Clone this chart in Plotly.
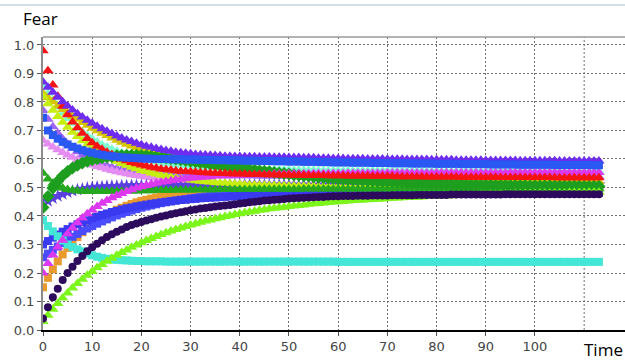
import plotly.graph_objects as go

# Simulated fear level of each agent over time (one list per agent, one value per time step)
red = [
    0.980, 0.910, 0.860, 0.820, 0.785, 0.755, 0.730, 0.710, 0.690, 0.672,
    0.657, 0.645, 0.634, 0.624, 0.615, 0.607, 0.600, 0.594, 0.588, 0.583,
    0.579, 0.575, 0.571, 0.568, 0.565, 0.563, 0.561, 0.559, 0.557, 0.556,
    0.555, 0.554, 0.553, 0.552, 0.551, 0.550, 0.549, 0.549, 0.548, 0.548,
    0.547, 0.547, 0.546, 0.546, 0.546, 0.545, 0.545, 0.545, 0.544, 0.544,
    0.544, 0.543, 0.543, 0.543, 0.542, 0.542, 0.542, 0.542, 0.541, 0.541,
    0.541, 0.541, 0.540, 0.540, 0.540, 0.540, 0.540, 0.539, 0.539, 0.539,
    0.539, 0.539, 0.538, 0.538, 0.538, 0.538, 0.538, 0.538, 0.537, 0.537,
    0.537, 0.537, 0.537, 0.537, 0.537, 0.536, 0.536, 0.536, 0.536, 0.536,
    0.536, 0.536, 0.536, 0.535, 0.535, 0.535, 0.535, 0.535, 0.535, 0.535,
    0.535, 0.535, 0.535, 0.535, 0.534, 0.534, 0.534, 0.534, 0.534, 0.534,
    0.534, 0.534, 0.534, 0.534,
]
violet = [
    0.870, 0.852, 0.834, 0.817, 0.801, 0.786, 0.772, 0.759, 0.747, 0.736,
    0.725, 0.715, 0.706, 0.697, 0.689, 0.681, 0.674, 0.667, 0.661, 0.655,
    0.650, 0.645, 0.641, 0.637, 0.633, 0.630, 0.627, 0.624, 0.622, 0.620,
    0.618, 0.616, 0.615, 0.614, 0.613, 0.612, 0.611, 0.610, 0.610, 0.609,
    0.609, 0.608, 0.608, 0.608, 0.607, 0.607, 0.607, 0.606, 0.606, 0.606,
    0.605, 0.605, 0.605, 0.604, 0.604, 0.604, 0.603, 0.603, 0.603, 0.602,
    0.602, 0.602, 0.601, 0.601, 0.601, 0.601, 0.600, 0.600, 0.600, 0.600,
    0.599, 0.599, 0.599, 0.599, 0.598, 0.598, 0.598, 0.598, 0.598, 0.597,
    0.597, 0.597, 0.597, 0.597, 0.596, 0.596, 0.596, 0.596, 0.596, 0.596,
    0.595, 0.595, 0.595, 0.595, 0.595, 0.595, 0.595, 0.594, 0.594, 0.594,
    0.594, 0.594, 0.594, 0.594, 0.594, 0.593, 0.593, 0.593, 0.593, 0.593,
    0.593, 0.593, 0.593, 0.593,
]
royal_blue = [
    0.745, 0.700, 0.684, 0.671, 0.660, 0.651, 0.643, 0.637, 0.631, 0.626,
    0.622, 0.618, 0.615, 0.612, 0.610, 0.608, 0.606, 0.605, 0.604, 0.603,
    0.602, 0.601, 0.601, 0.600, 0.600, 0.600, 0.599, 0.599, 0.599, 0.598,
    0.598, 0.598, 0.597, 0.597, 0.597, 0.596, 0.596, 0.596, 0.595, 0.595,
    0.595, 0.594, 0.594, 0.594, 0.593, 0.593, 0.593, 0.592, 0.592, 0.592,
    0.591, 0.591, 0.591, 0.590, 0.590, 0.590, 0.589, 0.589, 0.589, 0.588,
    0.588, 0.588, 0.588, 0.587, 0.587, 0.587, 0.587, 0.586, 0.586, 0.586,
    0.586, 0.585, 0.585, 0.585, 0.585, 0.584, 0.584, 0.584, 0.584, 0.584,
    0.583, 0.583, 0.583, 0.583, 0.583, 0.582, 0.582, 0.582, 0.582, 0.582,
    0.582, 0.581, 0.581, 0.581, 0.581, 0.581, 0.581, 0.580, 0.580, 0.580,
    0.580, 0.580, 0.580, 0.580, 0.579, 0.579, 0.579, 0.579, 0.579, 0.579,
    0.579, 0.579, 0.578, 0.578,
]
aquamarine = [
    0.860, 0.831, 0.806, 0.782, 0.761, 0.742, 0.725, 0.709, 0.695, 0.682,
    0.670, 0.660, 0.650, 0.642, 0.634, 0.627, 0.621, 0.615, 0.610, 0.605,
    0.601, 0.597, 0.593, 0.590, 0.587, 0.585, 0.582, 0.580, 0.578, 0.577,
    0.575, 0.574, 0.572, 0.571, 0.570, 0.569, 0.568, 0.567, 0.567, 0.566,
    0.565, 0.565, 0.564, 0.564, 0.563, 0.563, 0.563, 0.562, 0.562, 0.562,
    0.562, 0.561, 0.561, 0.561, 0.561, 0.561, 0.560, 0.560, 0.560, 0.560,
    0.560, 0.560, 0.560, 0.559, 0.559, 0.559, 0.559, 0.559, 0.559, 0.559,
    0.559, 0.558, 0.558, 0.558, 0.558, 0.558, 0.558, 0.558, 0.558, 0.558,
    0.558, 0.558, 0.557, 0.557, 0.557, 0.557, 0.557, 0.557, 0.557, 0.557,
    0.557, 0.557, 0.557, 0.557, 0.557, 0.557, 0.557, 0.557, 0.556, 0.556,
    0.556, 0.556, 0.556, 0.556, 0.556, 0.556, 0.556, 0.556, 0.556, 0.556,
    0.556, 0.556, 0.556, 0.556,
]
olive_yellow = [
    0.830, 0.815, 0.801, 0.787, 0.774, 0.762, 0.750, 0.739, 0.728, 0.718,
    0.708, 0.699, 0.690, 0.682, 0.674, 0.666, 0.659, 0.652, 0.646, 0.640,
    0.634, 0.629, 0.623, 0.618, 0.613, 0.609, 0.605, 0.600, 0.597, 0.593,
    0.589, 0.586, 0.583, 0.580, 0.577, 0.574, 0.571, 0.569, 0.566, 0.564,
    0.562, 0.560, 0.558, 0.556, 0.554, 0.553, 0.551, 0.549, 0.548, 0.547,
    0.545, 0.544, 0.543, 0.542, 0.541, 0.540, 0.539, 0.538, 0.537, 0.536,
    0.535, 0.534, 0.534, 0.533, 0.532, 0.532, 0.531, 0.531, 0.530, 0.530,
    0.529, 0.529, 0.528, 0.528, 0.528, 0.527, 0.527, 0.527, 0.526, 0.526,
    0.526, 0.525, 0.525, 0.525, 0.525, 0.524, 0.524, 0.524, 0.524, 0.524,
    0.523, 0.523, 0.523, 0.523, 0.523, 0.523, 0.522, 0.522, 0.522, 0.522,
    0.522, 0.522, 0.522, 0.522, 0.521, 0.521, 0.521, 0.521, 0.521, 0.521,
    0.521, 0.521, 0.521, 0.521,
]
chartreuse = [
    0.820, 0.794, 0.771, 0.749, 0.729, 0.711, 0.694, 0.679, 0.664, 0.651,
    0.639, 0.628, 0.618, 0.608, 0.600, 0.592, 0.584, 0.578, 0.571, 0.566,
    0.560, 0.556, 0.551, 0.547, 0.543, 0.540, 0.537, 0.534, 0.531, 0.528,
    0.526, 0.524, 0.522, 0.520, 0.519, 0.517, 0.516, 0.515, 0.513, 0.512,
    0.511, 0.510, 0.509, 0.509, 0.508, 0.508, 0.507, 0.507, 0.506, 0.506,
    0.505, 0.505, 0.505, 0.504, 0.504, 0.504, 0.503, 0.503, 0.503, 0.502,
    0.502, 0.502, 0.502, 0.501, 0.501, 0.501, 0.501, 0.501, 0.500, 0.500,
    0.500, 0.500, 0.500, 0.500, 0.500, 0.499, 0.499, 0.499, 0.499, 0.499,
    0.499, 0.499, 0.499, 0.499, 0.498, 0.498, 0.498, 0.498, 0.498, 0.498,
    0.498, 0.498, 0.498, 0.498, 0.498, 0.498, 0.498, 0.498, 0.498, 0.498,
    0.498, 0.498, 0.497, 0.497, 0.497, 0.497, 0.497, 0.497, 0.497, 0.497,
    0.497, 0.497, 0.497, 0.497,
]
orchid = [
    0.665, 0.653, 0.642, 0.632, 0.623, 0.614, 0.606, 0.598, 0.591, 0.585,
    0.579, 0.574, 0.569, 0.564, 0.560, 0.555, 0.552, 0.548, 0.545, 0.542,
    0.539, 0.537, 0.534, 0.532, 0.530, 0.528, 0.527, 0.525, 0.524, 0.522,
    0.521, 0.520, 0.519, 0.518, 0.517, 0.516, 0.515, 0.514, 0.514, 0.513,
    0.512, 0.512, 0.511, 0.511, 0.510, 0.510, 0.509, 0.509, 0.509, 0.508,
    0.508, 0.508, 0.507, 0.507, 0.507, 0.507, 0.506, 0.506, 0.506, 0.506,
    0.506, 0.506, 0.505, 0.505, 0.505, 0.505, 0.505, 0.505, 0.505, 0.505,
    0.505, 0.504, 0.504, 0.504, 0.504, 0.504, 0.504, 0.504, 0.504, 0.504,
    0.504, 0.504, 0.504, 0.504, 0.504, 0.504, 0.504, 0.504, 0.504, 0.504,
    0.504, 0.504, 0.504, 0.503, 0.503, 0.503, 0.503, 0.503, 0.503, 0.503,
    0.503, 0.503, 0.503, 0.503, 0.503, 0.503, 0.503, 0.503, 0.503, 0.503,
    0.503, 0.503, 0.503, 0.503,
]
medium_purple = [
    0.770, 0.739, 0.713, 0.690, 0.670, 0.653, 0.638, 0.625, 0.613, 0.603,
    0.595, 0.588, 0.581, 0.576, 0.571, 0.567, 0.563, 0.560, 0.557, 0.555,
    0.553, 0.552, 0.550, 0.549, 0.547, 0.546, 0.546, 0.545, 0.544, 0.544,
    0.543, 0.543, 0.543, 0.542, 0.542, 0.542, 0.542, 0.541, 0.541, 0.541,
    0.541, 0.541, 0.541, 0.541, 0.540, 0.540, 0.540, 0.540, 0.540, 0.540,
    0.540, 0.540, 0.540, 0.540, 0.540, 0.540, 0.540, 0.540, 0.540, 0.540,
    0.540, 0.539, 0.539, 0.539, 0.539, 0.539, 0.539, 0.539, 0.539, 0.539,
    0.539, 0.539, 0.539, 0.539, 0.539, 0.539, 0.539, 0.539, 0.539, 0.539,
    0.539, 0.539, 0.539, 0.539, 0.539, 0.538, 0.538, 0.538, 0.538, 0.538,
    0.538, 0.538, 0.538, 0.538, 0.538, 0.538, 0.538, 0.538, 0.538, 0.538,
    0.538, 0.538, 0.538, 0.538, 0.538, 0.538, 0.538, 0.538, 0.538, 0.538,
    0.538, 0.538, 0.538, 0.538,
]
green_rising = [
    0.430, 0.468, 0.498, 0.522, 0.541, 0.556, 0.568, 0.578, 0.586, 0.592,
    0.597, 0.601, 0.604, 0.607, 0.609, 0.611, 0.612, 0.613, 0.613, 0.613,
    0.612, 0.611, 0.610, 0.608, 0.606, 0.604, 0.602, 0.600, 0.597, 0.595,
    0.592, 0.590, 0.587, 0.585, 0.582, 0.580, 0.577, 0.575, 0.572, 0.570,
    0.568, 0.566, 0.563, 0.561, 0.559, 0.557, 0.555, 0.553, 0.551, 0.549,
    0.547, 0.545, 0.543, 0.541, 0.540, 0.538, 0.536, 0.535, 0.533, 0.532,
    0.530, 0.529, 0.528, 0.527, 0.526, 0.525, 0.524, 0.523, 0.522, 0.521,
    0.520, 0.519, 0.518, 0.518, 0.517, 0.516, 0.516, 0.515, 0.514, 0.514,
    0.513, 0.513, 0.512, 0.512, 0.511, 0.511, 0.510, 0.510, 0.510, 0.509,
    0.509, 0.509, 0.508, 0.508, 0.508, 0.507, 0.507, 0.507, 0.507, 0.506,
    0.506, 0.506, 0.506, 0.506, 0.505, 0.505, 0.505, 0.505, 0.505, 0.505,
    0.504, 0.504, 0.504, 0.504,
]
green_flat = [
    0.550, 0.530, 0.515, 0.505, 0.498, 0.493, 0.490, 0.488, 0.487, 0.486,
    0.486, 0.486, 0.486, 0.486, 0.487, 0.487, 0.487, 0.488, 0.488, 0.488,
    0.489, 0.489, 0.489, 0.490, 0.490, 0.490, 0.490, 0.491, 0.491, 0.491,
    0.491, 0.492, 0.492, 0.492, 0.492, 0.492, 0.493, 0.493, 0.493, 0.493,
    0.493, 0.493, 0.493, 0.494, 0.494, 0.494, 0.494, 0.494, 0.494, 0.494,
    0.494, 0.494, 0.494, 0.495, 0.495, 0.495, 0.495, 0.495, 0.495, 0.495,
    0.495, 0.495, 0.495, 0.495, 0.495, 0.495, 0.495, 0.495, 0.495, 0.495,
    0.495, 0.495, 0.496, 0.496, 0.496, 0.496, 0.496, 0.496, 0.496, 0.496,
    0.496, 0.496, 0.496, 0.496, 0.496, 0.496, 0.496, 0.496, 0.496, 0.496,
    0.496, 0.496, 0.496, 0.496, 0.496, 0.496, 0.496, 0.496, 0.496, 0.496,
    0.496, 0.496, 0.496, 0.496, 0.496, 0.496, 0.496, 0.496, 0.496, 0.496,
    0.496, 0.496, 0.496, 0.496,
]
slate_blue = [
    0.440, 0.452, 0.462, 0.470, 0.477, 0.483, 0.488, 0.492, 0.495, 0.498,
    0.500, 0.502, 0.503, 0.504, 0.505, 0.505, 0.506, 0.506, 0.507, 0.507,
    0.507, 0.507, 0.507, 0.508, 0.508, 0.508, 0.508, 0.508, 0.508, 0.508,
    0.508, 0.508, 0.508, 0.508, 0.509, 0.509, 0.509, 0.509, 0.509, 0.509,
    0.509, 0.509, 0.509, 0.509, 0.509, 0.509, 0.509, 0.509, 0.509, 0.509,
    0.509, 0.509, 0.509, 0.509, 0.509, 0.509, 0.509, 0.509, 0.510, 0.510,
    0.510, 0.510, 0.510, 0.510, 0.510, 0.510, 0.510, 0.510, 0.510, 0.510,
    0.510, 0.510, 0.510, 0.510, 0.510, 0.510, 0.510, 0.510, 0.510, 0.510,
    0.510, 0.510, 0.510, 0.510, 0.510, 0.510, 0.510, 0.510, 0.510, 0.510,
    0.510, 0.510, 0.510, 0.510, 0.510, 0.510, 0.510, 0.510, 0.510, 0.510,
    0.510, 0.510, 0.510, 0.510, 0.510, 0.510, 0.510, 0.510, 0.510, 0.510,
    0.510, 0.510, 0.510, 0.510,
]
magenta = [
    0.200, 0.233, 0.263, 0.291, 0.315, 0.338, 0.358, 0.376, 0.393, 0.408,
    0.421, 0.433, 0.445, 0.454, 0.464, 0.472, 0.479, 0.486, 0.492, 0.498,
    0.503, 0.507, 0.511, 0.515, 0.518, 0.521, 0.524, 0.527, 0.529, 0.531,
    0.533, 0.534, 0.536, 0.537, 0.538, 0.540, 0.541, 0.541, 0.542, 0.543,
    0.544, 0.544, 0.545, 0.545, 0.546, 0.546, 0.546, 0.547, 0.547, 0.547,
    0.548, 0.548, 0.548, 0.548, 0.548, 0.549, 0.549, 0.549, 0.549, 0.549,
    0.549, 0.549, 0.550, 0.550, 0.550, 0.550, 0.550, 0.550, 0.550, 0.550,
    0.551, 0.551, 0.551, 0.551, 0.551, 0.551, 0.551, 0.551, 0.551, 0.551,
    0.552, 0.552, 0.552, 0.552, 0.552, 0.552, 0.552, 0.552, 0.552, 0.552,
    0.552, 0.552, 0.552, 0.552, 0.552, 0.553, 0.553, 0.553, 0.553, 0.553,
    0.553, 0.553, 0.553, 0.553, 0.553, 0.553, 0.553, 0.553, 0.553, 0.553,
    0.553, 0.553, 0.553, 0.553,
]
orange = [
    0.150, 0.183, 0.213, 0.241, 0.265, 0.288, 0.308, 0.326, 0.343, 0.358,
    0.371, 0.383, 0.395, 0.404, 0.414, 0.422, 0.429, 0.436, 0.442, 0.448,
    0.453, 0.457, 0.461, 0.465, 0.468, 0.471, 0.474, 0.477, 0.479, 0.481,
    0.483, 0.484, 0.486, 0.487, 0.488, 0.490, 0.491, 0.491, 0.492, 0.493,
    0.494, 0.494, 0.495, 0.495, 0.496, 0.496, 0.496, 0.497, 0.497, 0.497,
    0.497, 0.498, 0.498, 0.498, 0.498, 0.498, 0.498, 0.499, 0.499, 0.499,
    0.499, 0.499, 0.499, 0.499, 0.499, 0.499, 0.499, 0.500, 0.500, 0.500,
    0.500, 0.500, 0.500, 0.500, 0.500, 0.500, 0.500, 0.500, 0.500, 0.500,
    0.500, 0.500, 0.500, 0.500, 0.500, 0.500, 0.500, 0.500, 0.500, 0.500,
    0.500, 0.500, 0.500, 0.500, 0.500, 0.500, 0.500, 0.500, 0.500, 0.500,
    0.500, 0.500, 0.500, 0.500, 0.500, 0.500, 0.500, 0.500, 0.500, 0.500,
    0.500, 0.500, 0.500, 0.500,
]
blue = [
    0.300, 0.312, 0.324, 0.335, 0.345, 0.354, 0.363, 0.371, 0.378, 0.385,
    0.392, 0.398, 0.404, 0.409, 0.414, 0.418, 0.423, 0.427, 0.430, 0.434,
    0.437, 0.440, 0.443, 0.445, 0.448, 0.450, 0.452, 0.454, 0.456, 0.457,
    0.459, 0.460, 0.462, 0.463, 0.464, 0.465, 0.466, 0.467, 0.468, 0.469,
    0.470, 0.471, 0.471, 0.472, 0.472, 0.473, 0.473, 0.474, 0.474, 0.475,
    0.475, 0.475, 0.476, 0.476, 0.476, 0.477, 0.477, 0.477, 0.477, 0.477,
    0.478, 0.478, 0.478, 0.478, 0.478, 0.478, 0.479, 0.479, 0.479, 0.479,
    0.479, 0.479, 0.479, 0.479, 0.480, 0.480, 0.480, 0.480, 0.480, 0.480,
    0.480, 0.480, 0.480, 0.480, 0.480, 0.480, 0.480, 0.481, 0.481, 0.481,
    0.481, 0.481, 0.481, 0.481, 0.481, 0.481, 0.481, 0.481, 0.481, 0.481,
    0.481, 0.481, 0.481, 0.481, 0.481, 0.481, 0.481, 0.481, 0.481, 0.481,
    0.481, 0.481, 0.481, 0.481,
]
light_blue = [
    0.255, 0.268, 0.281, 0.293, 0.305, 0.316, 0.327, 0.337, 0.347, 0.356,
    0.365, 0.373, 0.381, 0.388, 0.395, 0.402, 0.408, 0.414, 0.419, 0.424,
    0.429, 0.433, 0.437, 0.441, 0.445, 0.448, 0.451, 0.454, 0.457, 0.459,
    0.462, 0.464, 0.466, 0.468, 0.470, 0.471, 0.473, 0.474, 0.476, 0.477,
    0.478, 0.479, 0.480, 0.481, 0.482, 0.482, 0.483, 0.484, 0.484, 0.485,
    0.485, 0.486, 0.486, 0.486, 0.487, 0.487, 0.487, 0.488, 0.488, 0.488,
    0.488, 0.488, 0.488, 0.489, 0.489, 0.489, 0.489, 0.489, 0.489, 0.489,
    0.489, 0.489, 0.489, 0.489, 0.489, 0.490, 0.490, 0.490, 0.490, 0.490,
    0.490, 0.490, 0.490, 0.490, 0.490, 0.490, 0.490, 0.490, 0.490, 0.490,
    0.490, 0.490, 0.490, 0.490, 0.490, 0.490, 0.490, 0.490, 0.490, 0.490,
    0.490, 0.490, 0.490, 0.490, 0.490, 0.490, 0.490, 0.490, 0.490, 0.490,
    0.490, 0.490, 0.490, 0.490,
]
indigo = [
    0.040, 0.080, 0.115, 0.145, 0.175, 0.200, 0.222, 0.242, 0.260, 0.276,
    0.290, 0.303, 0.315, 0.326, 0.336, 0.345, 0.353, 0.361, 0.368, 0.374,
    0.379, 0.384, 0.389, 0.394, 0.398, 0.402, 0.406, 0.410, 0.413, 0.417,
    0.420, 0.423, 0.426, 0.428, 0.431, 0.433, 0.435, 0.437, 0.439, 0.441,
    0.444, 0.446, 0.448, 0.450, 0.452, 0.454, 0.455, 0.457, 0.458, 0.460,
    0.461, 0.462, 0.463, 0.464, 0.465, 0.466, 0.467, 0.467, 0.468, 0.469,
    0.469, 0.470, 0.470, 0.470, 0.471, 0.471, 0.471, 0.472, 0.472, 0.472,
    0.472, 0.473, 0.473, 0.473, 0.473, 0.473, 0.474, 0.474, 0.474, 0.474,
    0.474, 0.474, 0.474, 0.475, 0.475, 0.475, 0.475, 0.475, 0.475, 0.475,
    0.475, 0.475, 0.475, 0.475, 0.476, 0.476, 0.476, 0.476, 0.476, 0.476,
    0.476, 0.476, 0.476, 0.476, 0.476, 0.476, 0.476, 0.476, 0.476, 0.476,
    0.476, 0.476, 0.476, 0.476,
]
lime = [
    0.030, 0.052, 0.073, 0.093, 0.112, 0.130, 0.147, 0.163, 0.178, 0.192,
    0.205, 0.218, 0.230, 0.241, 0.252, 0.262, 0.272, 0.281, 0.290, 0.298,
    0.306, 0.314, 0.321, 0.328, 0.335, 0.341, 0.347, 0.353, 0.358, 0.363,
    0.368, 0.373, 0.378, 0.382, 0.386, 0.390, 0.394, 0.398, 0.401, 0.405,
    0.408, 0.411, 0.414, 0.417, 0.420, 0.422, 0.425, 0.427, 0.429, 0.431,
    0.433, 0.435, 0.437, 0.439, 0.441, 0.443, 0.444, 0.446, 0.447, 0.449,
    0.450, 0.451, 0.453, 0.454, 0.455, 0.456, 0.457, 0.458, 0.459, 0.460,
    0.461, 0.462, 0.463, 0.464, 0.465, 0.466, 0.466, 0.467, 0.468, 0.469,
    0.469, 0.470, 0.471, 0.471, 0.472, 0.472, 0.473, 0.474, 0.474, 0.475,
    0.475, 0.476, 0.476, 0.477, 0.477, 0.477, 0.478, 0.478, 0.479, 0.479,
    0.479, 0.480, 0.480, 0.480, 0.481, 0.481, 0.481, 0.482, 0.482, 0.482,
    0.482, 0.483, 0.483, 0.483,
]
turquoise = [
    0.385, 0.365, 0.346, 0.329, 0.314, 0.300, 0.291, 0.283, 0.276, 0.269,
    0.262, 0.257, 0.253, 0.250, 0.248, 0.246, 0.245, 0.244, 0.243, 0.242,
    0.242, 0.241, 0.241, 0.241, 0.241, 0.240, 0.240, 0.240, 0.240, 0.240,
    0.240, 0.240, 0.240, 0.240, 0.240, 0.240, 0.240, 0.240, 0.240, 0.240,
    0.240, 0.240, 0.240, 0.240, 0.240, 0.240, 0.240, 0.240, 0.240, 0.240,
    0.240, 0.240, 0.240, 0.240, 0.240, 0.240, 0.240, 0.240, 0.240, 0.240,
    0.239, 0.239, 0.239, 0.239, 0.239, 0.239, 0.239, 0.239, 0.239, 0.239,
    0.239, 0.239, 0.239, 0.239, 0.239, 0.239, 0.239, 0.239, 0.239, 0.239,
    0.239, 0.239, 0.239, 0.239, 0.239, 0.239, 0.239, 0.239, 0.239, 0.239,
    0.239, 0.239, 0.239, 0.239, 0.239, 0.239, 0.239, 0.239, 0.239, 0.239,
    0.239, 0.239, 0.239, 0.239, 0.239, 0.239, 0.239, 0.239, 0.239, 0.239,
    0.239, 0.239, 0.239, 0.239,
]

X_TICKS = [0, 10, 20, 30, 40, 50, 60, 70, 80, 90, 100]
Y_TICKS = [0.0, 0.1, 0.2, 0.3, 0.4, 0.5, 0.6, 0.7, 0.8, 0.9, 1.0]

# (values, colour, marker symbol, marker size) in drawing order, bottom first
agents = [
    (aquamarine, "#7dffd2", "triangle-up", 10),
    (medium_purple, "#9d63f2", "triangle-up", 10),
    (orchid, "#e58cf2", "triangle-up", 10),
    (orange, "#e99a2c", "square", 8),
    (slate_blue, "#5a3fe0", "star", 10),
    (light_blue, "#4a4cff", "square", 8),
    (blue, "#3a3af0", "square", 8),
    (olive_yellow, "#d6c400", "triangle-up", 10),
    (chartreuse, "#c4ef10", "triangle-up", 10),
    (green_flat, "#26a81e", "triangle-up", 10),
    (green_rising, "#1e9e1e", "diamond", 10),
    (turquoise, "#44e6d6", "square", 8),
    (magenta, "#dc38f0", "triangle-up", 10),
    (red, "#f41414", "triangle-up", 10),
    (violet, "#6e2cf0", "triangle-up", 10),
    (royal_blue, "#2a58f2", "square", 8),
    (lime, "#7cf51a", "triangle-up", 10),
    (indigo, "#2c0a5c", "circle", 8),
]

fig = go.Figure()
for values, colour, symbol, size in agents:
    fig.add_trace(go.Scatter(
        x=list(range(len(values))),
        y=values,
        mode="markers",
        marker=dict(color=colour, symbol=symbol, size=size, line=dict(width=0)),
        showlegend=False,
        hoverinfo="skip",
    ))

tick_font = dict(family="DejaVu Sans", size=13, color="#444444")
grid = dict(showgrid=True, gridcolor="#6e6e6e", gridwidth=1, griddash="2px,2px")

fig.update_layout(
    width=625,
    height=360,
    margin=dict(l=43, r=0, t=37, b=30),
    paper_bgcolor="white",
    plot_bgcolor="white",
    xaxis=dict(
        range=[0, 118.3],
        tickvals=X_TICKS,
        ticks="outside",
        ticklen=4,
        tickcolor="#555555",
        tickfont=tick_font,
        showline=True,
        linecolor="black",
        linewidth=1.5,
        zeroline=False,
        **grid,
    ),
    yaxis=dict(
        range=[0, 1.028],
        tickvals=Y_TICKS,
        tickformat=".1f",
        ticks="outside",
        ticklen=4,
        tickcolor="#555555",
        tickfont=tick_font,
        showline=True,
        linecolor="#8c8c8c",
        linewidth=2,
        zeroline=False,
        **grid,
    ),
    annotations=[
        dict(text="Fear", xref="paper", yref="paper", x=-0.037, y=1.062,
             xanchor="left", yanchor="middle", showarrow=False,
             font=dict(family="Open Sans", size=17, color="black")),
        dict(text="Time", xref="paper", yref="paper", x=0.926, y=-0.068,
             xanchor="left", yanchor="middle", showarrow=False,
             font=dict(family="Open Sans", size=17, color="black")),
    ],
    shapes=[
        # frame line along the top of the plotting area
        dict(type="line", xref="paper", yref="paper", x0=0, x1=1, y0=1, y1=1,
             line=dict(color="#9a9a9a", width=1.5)),
        # thin window rule above the title
        dict(type="line", xref="paper", yref="paper", x0=-0.08, x1=1.0,
             y0=1.109, y1=1.109, line=dict(color="#c4d2dc", width=1.5)),
    ],
)

# extra gridline at 110 beyond the labelled ticks
fig.add_vline(x=110, line=dict(color="#6e6e6e", width=1, dash="2px,2px"), layer="below")

fig.write_html("out.html")
